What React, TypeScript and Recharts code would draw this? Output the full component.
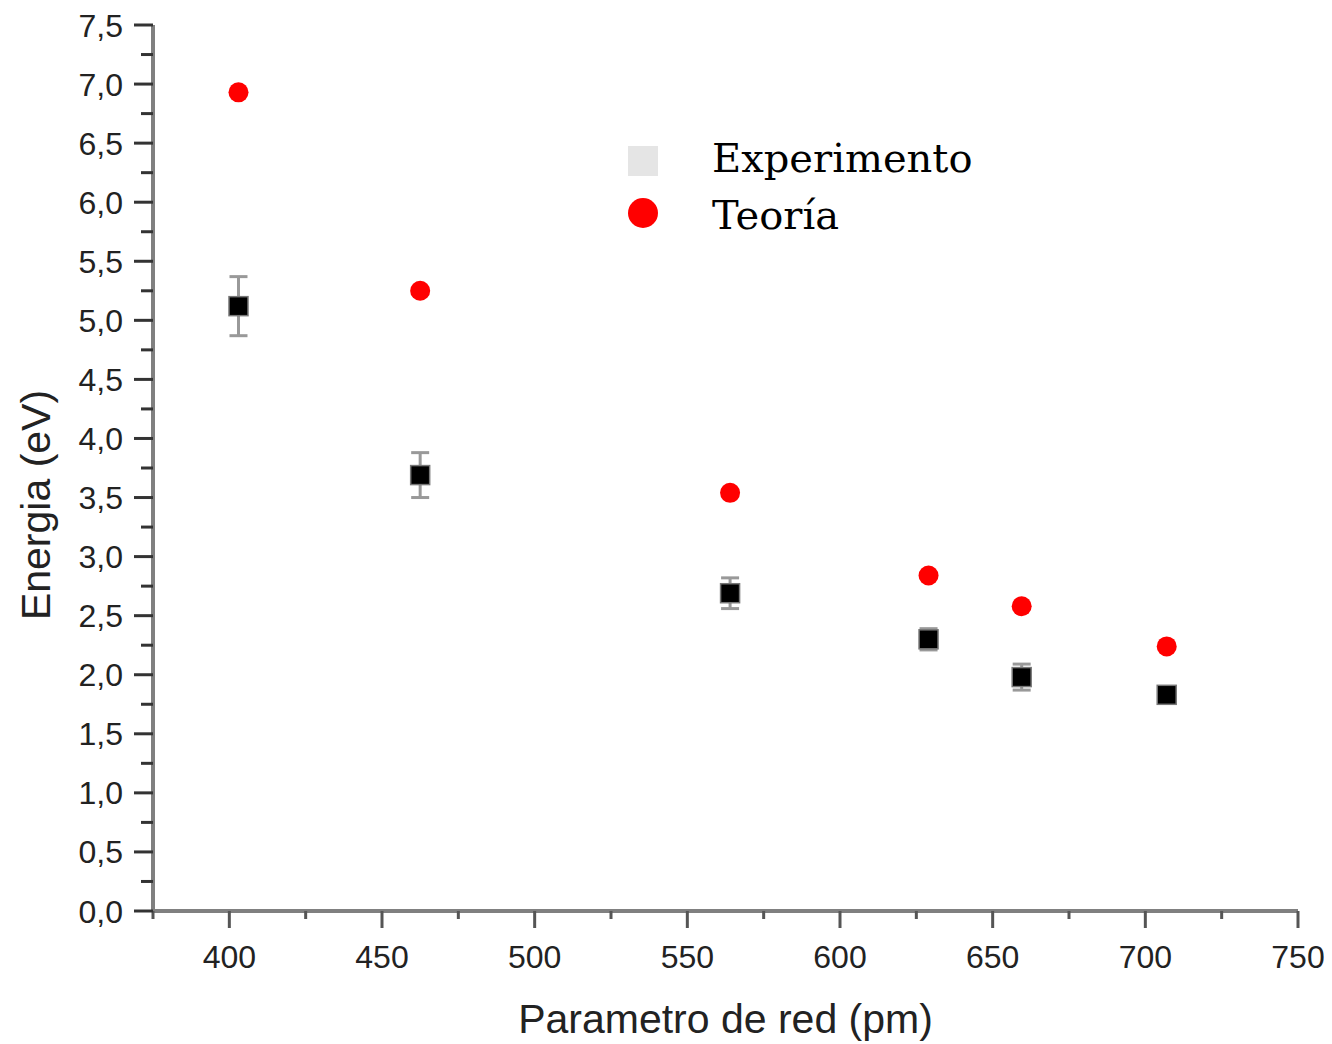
import React from 'react';
import {
  ScatterChart, Scatter, XAxis, YAxis, ErrorBar, Legend
} from 'recharts';

// lattice parameter (pm) for each compound
const latticePm = [403, 462.5, 564, 629, 659.5, 707];
// measured energies (eV) and their uncertainty
const experimentEv = [5.12, 3.69, 2.69, 2.3, 1.98, 1.83];
const experimentErr = [0.25, 0.19, 0.13, 0.09, 0.11, 0.06];
// theoretical energies (eV)
const theoryEv = [6.93, 5.25, 3.54, 2.84, 2.58, 2.24];

const xTicks = [375, 400, 425, 450, 475, 500, 525, 550, 575, 600, 625, 650, 675, 700, 725, 750];
const yTicks = [0, 0.25, 0.5, 0.75, 1, 1.25, 1.5, 1.75, 2, 2.25, 2.5, 2.75, 3, 3.25, 3.5, 3.75,
  4, 4.25, 4.5, 4.75, 5, 5.25, 5.5, 5.75, 6, 6.25, 6.5, 6.75, 7, 7.25, 7.5];

const experiment = latticePm.map((x, i) => ({ x, y: experimentEv[i], err: experimentErr[i] }));
const theory = latticePm.map((x, i) => ({ x, y: theoryEv[i] }));

const AXIS_FONT = '"Liberation Sans", Arial, sans-serif';
const AXIS_COLOR = '#808080';

const XTick = (props: any) => {
  const { x, y, payload } = props;
  const major = payload.value % 50 === 0;
  return (
    <g>
      <line x1={x} x2={x} y1={y} y2={y + (major ? 17 : 8)} stroke="#555" strokeWidth={3} />
      {major && payload.value !== 375 && (
        <text x={x} y={y + 57} textAnchor="middle" fontSize={32} fontFamily={AXIS_FONT} fill="#222">
          {payload.value}
        </text>
      )}
    </g>
  );
};

const YTick = (props: any) => {
  const { x, y, payload } = props;
  const major = Math.abs(payload.value * 2 - Math.round(payload.value * 2)) < 1e-6;
  return (
    <g>
      <line x1={x - (major ? 19 : 12)} x2={x} y1={y} y2={y} stroke="#333" strokeWidth={3} />
      {major && (
        <text x={x - 30} y={y} dy="0.36em" textAnchor="end" fontSize={32} fontFamily={AXIS_FONT} fill="#222">
          {payload.value.toFixed(1).replace('.', ',')}
        </text>
      )}
    </g>
  );
};

const SquareDot = (props: any) => {
  const { cx, cy } = props;
  return <rect x={cx - 9.5} y={cy - 9.5} width={19} height={19} fill="#000" stroke="#777" strokeWidth={1.5} />;
};

const RoundDot = (props: any) => {
  const { cx, cy } = props;
  return <circle cx={cx} cy={cy} r={10} fill="#ff0000" />;
};

const LegendBox = () => (
  <svg width={480} height={130} style={{ overflow: 'visible' }}>
    <rect x={8} y={8} width={30} height={30} fill="#e5e5e5" />
    <text x={92} y={34} fontSize={40} fontFamily='"DejaVu Serif", serif' fill="#000">Experimento</text>
    <circle cx={23} cy={75} r={15} fill="#ff0000" />
    <text x={92} y={91} fontSize={40} fontFamily='"DejaVu Serif", serif' fill="#000">Teoría</text>
  </svg>
);

const YLabel = () => (
  <text x={27} y={497} transform="rotate(-90, 27, 497)" textAnchor="middle" dy="0.36em"
    fontSize={41} fontFamily={AXIS_FONT} fill="#222">
    Energia (eV)
  </text>
);

export default function App() {
  return (
    <ScatterChart width={1324} height={1036} margin={{ top: 17, right: 34, bottom: 0, left: 0 }}>
      <XAxis type="number" dataKey="x" domain={[375, 750]} ticks={xTicks} interval={0}
        height={133} tickSize={0} tickMargin={0} tickLine={false} tick={<XTick />}
        axisLine={{ stroke: AXIS_COLOR, strokeWidth: 4 }}
        label={{ value: 'Parametro de red (pm)', position: 'insideBottom', offset: 11,
          style: { fontSize: 41, fontFamily: AXIS_FONT, fill: '#222' } }} />
      <YAxis type="number" dataKey="y" domain={[0, 7.5]} ticks={yTicks} interval={0}
        width={145} tickSize={0} tickMargin={0} tickLine={false} tick={<YTick />}
        axisLine={{ stroke: AXIS_COLOR, strokeWidth: 4 }}
        label={<YLabel />} />
      <Legend layout="vertical" align="center" verticalAlign="middle" content={<LegendBox />}
        wrapperStyle={{ position: 'absolute', top: 130, left: 612, width: 480, height: 130 }} />
      <Scatter name="Experimento" data={experiment} shape={<SquareDot />} isAnimationActive={false}>
        <ErrorBar dataKey="err" direction="y" width={9} stroke="#999" strokeWidth={3} />
      </Scatter>
      <Scatter name="Teoría" data={theory} shape={<RoundDot />} isAnimationActive={false} />
    </ScatterChart>
  );
}
